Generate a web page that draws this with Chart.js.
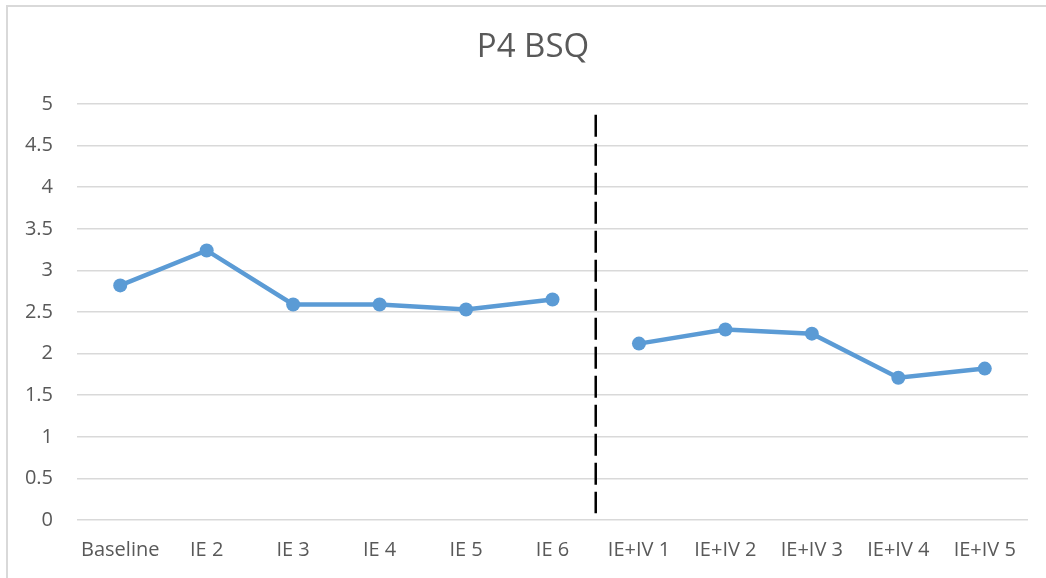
<!DOCTYPE html>
<html>
<head>
<meta charset="utf-8">
<script src="https://cdn.jsdelivr.net/npm/chart.js@4"></script>
<style>
  html, body { margin: 0; padding: 0; background: #fff; overflow: hidden; }
  #wrap { position: relative; width: 1046px; height: 578px; }
  #frame { position: absolute; left: 6px; top: 5px; width: 1100px; height: 640px; border-left: 2px solid #d9d9d9; border-top: 2px solid #d9d9d9; pointer-events: none; }
  canvas { position: absolute; left: 0; top: 0; }
</style>
</head>
<body>
<div id="wrap">
  <canvas id="c" width="1046" height="578"></canvas>
  <div id="frame"></div>
</div>
<script>
const chartTitle = 'P4 BSQ';
const categories = ['Baseline', 'IE 2', 'IE 3', 'IE 4', 'IE 5', 'IE 6', 'IE+IV 1', 'IE+IV 2', 'IE+IV 3', 'IE+IV 4', 'IE+IV 5'];
const values = [2.82, 3.24, 2.59, 2.59, 2.53, 2.65, 2.12, 2.29, 2.24, 1.71, 1.82];
const breakAfterIndex = 5;          // line is not joined between IE 6 and IE+IV 1
const phaseDivider = 5.5;           // dashed phase-change line position (category index)
const dividerRange = [0.08, 4.87];  // y extent of dashed line
const yTicks = [0, 0.5, 1, 1.5, 2, 2.5, 3, 3.5, 4, 4.5, 5];
const yTickLabels = ['0', '0.5', '1', '1.5', '2', '2.5', '3', '3.5', '4', '4.5', '5'];

const FONT = "'Open Sans', 'Liberation Sans', sans-serif";
const TEXT = '#595959';
const GRID = '#d9d9d9';
const LINE = '#5b9bd5';

// Title centred on the outer chart frame (frame spans x 6..~1060)
const titlePlugin = {
  id: 'frameTitle',
  afterDraw(chart) {
    const ctx = chart.ctx;
    ctx.save();
    ctx.fillStyle = TEXT;
    ctx.font = "normal 33px " + FONT;
    ctx.textAlign = 'center';
    ctx.textBaseline = 'middle';
    ctx.fillText(chartTitle, 533, 48);
    ctx.restore();
  }
};

const dividerPlugin = {
  id: 'phaseDivider',
  afterDatasetsDraw(chart) {
    const x = chart.scales.x.getPixelForValue(phaseDivider);
    const y1 = chart.scales.y.getPixelForValue(dividerRange[1]);
    const y0 = chart.scales.y.getPixelForValue(dividerRange[0]);
    const ctx = chart.ctx;
    ctx.save();
    ctx.strokeStyle = '#000';
    ctx.lineWidth = 2.5;
    ctx.setLineDash([22, 7]);
    ctx.beginPath();
    ctx.moveTo(x, y1);
    ctx.lineTo(x, y0);
    ctx.stroke();
    ctx.restore();
  }
};

new Chart(document.getElementById('c'), {
  type: 'line',
  data: {
    labels: categories,
    datasets: [{
      label: chartTitle,
      data: values,
      borderColor: LINE,
      backgroundColor: LINE,
      borderWidth: 4.5,
      pointRadius: 7,
      pointHoverRadius: 7,
      pointBackgroundColor: LINE,
      pointBorderWidth: 0,
      tension: 0,
      segment: {
        borderColor: ctx => ctx.p0DataIndex === breakAfterIndex ? 'rgba(0,0,0,0)' : LINE
      }
    }]
  },
  options: {
    responsive: false,
    animation: false,
    layout: { padding: { left: 0, right: 18, top: 104, bottom: 0 } },
    plugins: {
      legend: { display: false },
      tooltip: { enabled: false },
      title: { display: false }
    },
    scales: {
      x: {
        offset: true,
        grid: { display: false, drawTicks: false },
        border: { display: false },
        ticks: { color: TEXT, font: { family: FONT, size: 20 }, padding: 18, maxRotation: 0, autoSkip: false },
        afterFit(scale) { scale.height = 58; }
      },
      y: {
        min: 0,
        max: 5,
        afterBuildTicks(scale) { scale.ticks = yTicks.map(v => ({ value: v })); },
        grid: { color: GRID, lineWidth: 1.5, drawTicks: false },
        border: { display: false },
        ticks: {
          color: TEXT, font: { family: FONT, size: 20 }, padding: 24,
          callback: (v, i) => yTickLabels[i]
        },
        afterFit(scale) { scale.width = 77; }
      }
    }
  },
  plugins: [dividerPlugin, titlePlugin]
});
</script>
</body>
</html>
